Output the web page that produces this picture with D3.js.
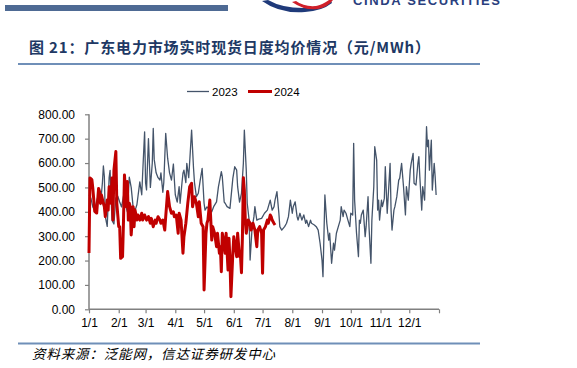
<!DOCTYPE html>
<html>
<head>
<meta charset="utf-8">
<script src="https://cdn.jsdelivr.net/npm/d3@7"></script>
<style>
  body { margin: 0; background: #fff; }
  svg { display: block; }
</style>
</head>
<body>
<div id="chart"></div>
<script>
// Chart size
const width = 577;
const height = 368;

// x = day of year, month starts for ticks
const monthDays = [0, 31, 59, 90, 120, 151, 181, 212, 243, 273, 304, 334, 365];
const monthLabels = ["1/1", "2/1", "3/1", "4/1", "5/1", "6/1", "7/1", "8/1", "9/1", "10/1", "11/1", "12/1", ""];
const yTicks = [0, 100, 200, 300, 400, 500, 600, 700, 800];

// 2023 daily average price (day of year, yuan/MWh)
const days2023 = [0, 2, 4, 6, 8, 10, 12, 14, 15, 16, 17, 19, 21, 22, 23, 24, 26, 28, 30, 32, 34, 36, 38, 40, 42, 44, 46, 48, 50, 53, 55, 56, 58, 59, 60, 62, 64, 66, 67, 68, 70, 72, 74, 75, 77, 78, 80, 82, 84, 86, 88, 90, 92, 94, 95, 97, 98, 99, 101, 102, 104, 107, 109, 110, 112, 114, 116, 118, 120, 121, 123, 126, 128, 130, 133, 135, 138, 139, 141, 142, 144, 147, 150, 152, 154, 155, 157, 159, 161, 162, 164, 165, 167, 168, 170, 172, 173, 175, 177, 180, 183, 186, 189, 191, 193, 194, 196, 198, 199, 201, 204, 206, 208, 210, 212, 213, 215, 217, 218, 220, 222, 224, 226, 227, 229, 231, 232, 235, 237, 239, 241, 243, 244, 246, 248, 250, 251, 253, 255, 256, 258, 260, 262, 263, 265, 266, 268, 270, 272, 273, 275, 276, 277, 279, 281, 282, 283, 284, 286, 288, 289, 291, 292, 294, 295, 297, 298, 300, 301, 302, 303, 305, 306, 308, 309, 311, 312, 314, 315, 316, 318, 319, 321, 323, 324, 326, 328, 330, 331, 333, 335, 336, 338, 339, 341, 343, 344, 345, 347, 348, 350, 352, 353, 354, 355, 357, 358, 360, 361, 362];
const values2023 = [470, 455, 420, 405, 445, 470, 430, 520, 588, 545, 380, 340, 540, 570, 460, 365, 350, 457, 464, 440, 420, 465, 430, 400, 542, 500, 420, 405, 430, 523, 470, 560, 728, 520, 490, 700, 500, 600, 742, 615, 560, 540, 530, 560, 480, 520, 722, 620, 560, 530, 596, 470, 440, 503, 435, 520, 558, 571, 520, 599, 540, 735, 580, 520, 462, 476, 530, 578, 435, 407, 420, 407, 400, 421, 441, 503, 565, 544, 440, 435, 421, 414, 537, 585, 571, 503, 440, 476, 600, 735, 571, 435, 366, 202, 330, 380, 421, 366, 370, 373, 394, 407, 448, 407, 421, 448, 483, 394, 339, 325, 339, 353, 380, 448, 394, 421, 441, 380, 366, 394, 366, 387, 353, 366, 339, 366, 353, 346, 339, 325, 271, 202, 134, 469, 353, 284, 312, 189, 271, 243, 312, 339, 366, 421, 380, 407, 394, 366, 339, 394, 387, 681, 448, 312, 216, 366, 353, 387, 407, 298, 339, 462, 339, 189, 366, 503, 667, 612, 407, 448, 366, 448, 421, 455, 585, 394, 462, 599, 407, 325, 407, 421, 462, 530, 537, 599, 503, 387, 503, 448, 571, 599, 640, 517, 510, 599, 626, 544, 407, 503, 448, 749, 667, 694, 571, 694, 489, 599, 544, 469];

// 2024 daily average price (day of year, yuan/MWh)
const days2024 = [0, 1, 3, 4, 6, 8, 10, 11, 12, 13, 15, 16, 17, 19, 20, 21, 23, 24, 25, 26, 28, 29, 31, 32, 33, 35, 36, 37, 39, 40, 41, 42, 43, 44, 46, 47, 48, 50, 51, 53, 55, 56, 58, 60, 62, 64, 65, 67, 69, 70, 72, 74, 75, 77, 79, 80, 82, 84, 86, 88, 89, 91, 93, 94, 96, 98, 99, 101, 103, 105, 107, 108, 110, 112, 114, 115, 117, 119, 120, 122, 123, 124, 126, 128, 129, 131, 133, 134, 136, 137, 138, 139, 140, 142, 143, 145, 146, 147, 148, 150, 151, 152, 154, 155, 157, 158, 159, 160, 161, 162, 163, 164, 166, 168, 169, 171, 172, 173, 175, 176, 178, 179, 180, 181, 182, 184, 186, 187, 189, 190, 191, 193, 194];
const values2024 = [231, 539, 532, 496, 402, 395, 496, 483, 435, 469, 435, 421, 380, 448, 407, 503, 435, 539, 366, 571, 647, 435, 339, 339, 209, 216, 366, 551, 421, 524, 366, 435, 421, 305, 421, 339, 407, 366, 387, 366, 394, 366, 387, 366, 380, 353, 373, 339, 366, 353, 380, 366, 353, 366, 325, 380, 483, 421, 394, 400, 380, 387, 312, 394, 366, 230, 298, 353, 435, 503, 517, 421, 462, 435, 380, 441, 353, 339, 79, 312, 353, 366, 448, 284, 339, 311, 257, 312, 230, 257, 154, 312, 291, 230, 312, 161, 291, 202, 52, 230, 298, 271, 216, 312, 216, 216, 150, 298, 540, 489, 366, 312, 366, 353, 325, 353, 339, 325, 257, 325, 339, 325, 312, 148, 325, 339, 366, 353, 387, 380, 366, 352, 346];

const series = [
  { name: "2023", days: days2023, values: values2023, color: "#44546a", width: 1.3 },
  { name: "2024", days: days2024, values: values2024, color: "#c00000", width: 3 }
];

// Plot area
const x = d3.scaleLinear().domain([0, 365]).range([89, 439]);
const y = d3.scaleLinear().domain([0, 800]).range([309.3, 114.3]);

const svg = d3.create("svg")
    .attr("width", width)
    .attr("height", height)
    .attr("font-family", "Liberation Sans, Arial, sans-serif");

// Header: report bar + cut-off logo
svg.append("rect")
    .attr("x", 5).attr("y", 5).attr("width", 223).attr("height", 6)
    .attr("fill", "#4e6a94");
svg.append("path")
    .attr("d", "M262,1 Q280,14 305,12 Q322,11 332,3 L331,1 Q318,8 303,8 Q282,8 268,0 Z")
    .attr("fill", "#1f3a7a");
svg.append("path")
    .attr("d", "M292,2 Q305,11 318,9 Q328,7 333,0 L329,0 Q322,5 316,6 Q304,7 296,1 Z")
    .attr("fill", "#d0202a");
svg.append("text")
    .attr("x", 353).attr("y", 5)
    .attr("textLength", 147)
    .attr("font-size", 13)
    .attr("font-weight", "bold")
    .attr("fill", "#2b3f7e")
    .text("CINDA SECURITIES");

// Title
svg.append("text")
    .attr("x", 29).attr("y", 53)
    .attr("textLength", 401)
    .attr("font-family", "Noto Sans CJK SC, sans-serif")
    .attr("font-size", 15)
    .attr("font-weight", "bold")
    .attr("fill", "#203864")
    .text("图 21：广东电力市场实时现货日度均价情况（元/MWh）");

svg.append("line")
    .attr("x1", 18).attr("x2", 480).attr("y1", 64).attr("y2", 64)
    .attr("stroke", "#6f8fb8").attr("stroke-width", 2);

// Legend
const legend = svg.append("g").attr("font-size", 11.5).attr("fill", "#000");
[[187, 209, 212], [248, 272, 274]].forEach(([x1, x2, tx], i) => {
  legend.append("line")
      .attr("x1", x1).attr("x2", x2).attr("y1", 91.5).attr("y2", 91.5)
      .attr("stroke", series[i].color).attr("stroke-width", series[i].width);
  legend.append("text")
      .attr("x", tx).attr("y", 95.5)
      .text(series[i].name);
});

// Axes
const yAxis = svg.append("g")
    .attr("transform", "translate(89,0)")
    .call(d3.axisLeft(y).tickValues(yTicks).tickFormat(d3.format(".2f")).tickSize(4).tickPadding(10));

const xAxis = svg.append("g")
    .attr("transform", "translate(0,309.3)")
    .call(d3.axisBottom(x).tickValues(monthDays).tickFormat((d, i) => monthLabels[i]).tickSize(4).tickPadding(5.5));

[xAxis, yAxis].forEach(g => {
  g.selectAll(".domain").attr("stroke", "#808080").attr("stroke-width", 1.5);
  g.selectAll(".tick line").attr("stroke", "#808080").attr("stroke-width", 1.2);
  g.selectAll("text").attr("font-size", 12).attr("fill", "#000")
      .attr("font-family", "Liberation Sans, Arial, sans-serif");
});
yAxis.select(".domain").attr("d", "M0,309.3V114.3");
xAxis.select(".domain").attr("d", "M89,0H439");

// Lines
const line = d3.line()
    .x(d => x(d[0]))
    .y(d => y(d[1]));

series.forEach(s => {
  svg.append("path")
      .datum(s.days.map((d, i) => [d, s.values[i]]))
      .attr("fill", "none")
      .attr("stroke", s.color)
      .attr("stroke-width", s.width)
      .attr("stroke-linejoin", "round")
      .attr("d", line);
});

// Footer
svg.append("line")
    .attr("x1", 18).attr("x2", 480).attr("y1", 343.5).attr("y2", 343.5)
    .attr("stroke", "#6f8fb8").attr("stroke-width", 2);

svg.append("text")
    .attr("x", 32).attr("y", 359)
    .attr("textLength", 243)
    .attr("font-family", "Noto Sans CJK SC, sans-serif")
    .attr("font-size", 13.5)
    .attr("font-style", "italic")
    .attr("fill", "#000")
    .text("资料来源：泛能网，信达证券研发中心");

d3.select("#chart").append(() => svg.node());
</script>
</body>
</html>
